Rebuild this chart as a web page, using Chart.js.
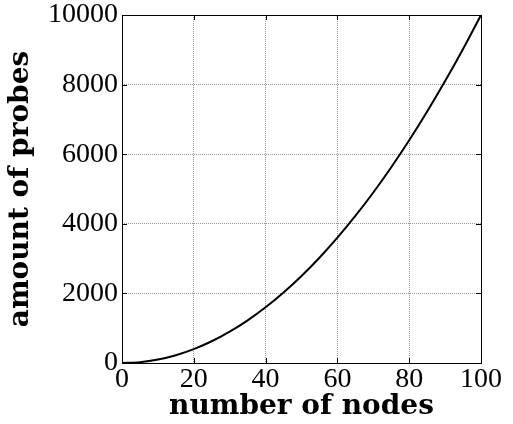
<!DOCTYPE html>
<html>
<head>
<meta charset="utf-8">
<script src="https://cdn.jsdelivr.net/npm/chart.js@4/dist/chart.umd.min.js"></script>
<style>
  html, body { margin: 0; padding: 0; background: #fff; }
  #wrap { width: 513px; height: 424px; }
</style>
</head>
<body>
<div id="wrap"><canvas id="c" width="513" height="424"></canvas></div>
<script>
// values
const nodes = [0, 5, 10, 15, 20, 25, 30, 35, 40, 45, 50, 55, 60, 65, 70, 75, 80, 85, 90, 95, 100];
const probes = [0, 25, 100, 225, 400, 625, 900, 1225, 1600, 2025, 2500, 3025, 3600, 4225, 4900, 5625, 6400, 7225, 8100, 9025, 10000];
const xTicks = [0, 20, 40, 60, 80, 100];
const yTicks = [0, 2000, 4000, 6000, 8000, 10000];

const serif = "'Liberation Serif', 'DejaVu Serif', serif";
const titleFont = "'DejaVu Serif', serif";

// frame + inward tick marks like the matplotlib original
const framePlugin = {
    id: 'frame',
    afterDraw(chart) {
        const { ctx, chartArea: a, scales } = chart;
        ctx.save();
        ctx.strokeStyle = '#000';
        ctx.lineWidth = 1;
        ctx.strokeRect(a.left + 0.5, a.top + 0.5, a.right - a.left, a.bottom - a.top);
        ctx.beginPath();
        xTicks.forEach(v => {
            const px = Math.round(scales.x.getPixelForValue(v)) + 0.5;
            ctx.moveTo(px, a.bottom); ctx.lineTo(px, a.bottom - 5);
            ctx.moveTo(px, a.top); ctx.lineTo(px, a.top + 5);
        });
        yTicks.forEach(v => {
            const py = Math.round(scales.y.getPixelForValue(v)) + 0.5;
            ctx.moveTo(a.left, py); ctx.lineTo(a.left + 5, py);
            ctx.moveTo(a.right, py); ctx.lineTo(a.right - 5, py);
        });
        ctx.stroke();
        ctx.restore();
    }
};

new Chart(document.getElementById('c'), {
    type: 'line',
    data: {
        datasets: [{
            data: nodes.map((n, i) => ({ x: n, y: probes[i] })),
            borderColor: '#000',
            borderWidth: 2,
            pointRadius: 0,
            tension: 0.3,
            fill: false
        }]
    },
    options: {
        responsive: false,
        animation: false,
        layout: { padding: { top: 15, right: 32, left: 0, bottom: 0 } },
        plugins: { legend: { display: false }, tooltip: { enabled: false } },
        scales: {
            x: {
                type: 'linear',
                min: 0, max: 100,
                afterBuildTicks: s => { s.ticks = xTicks.map(v => ({ value: v })); },
                afterFit: s => { s.height = 61; s.paddingLeft = 0; s.paddingRight = 0; },
                grid: { color: '#999', lineWidth: 1, drawTicks: false },
                border: { display: false, dash: [1, 1] },
                ticks: { color: '#000', padding: 0, maxRotation: 0, font: { family: serif, size: 28 } },
                title: { display: true, text: 'number of nodes', color: '#000', padding: { top: -6, bottom: 0 },
                         font: { family: titleFont, size: 28, weight: 'bold' } }
            },
            y: {
                type: 'linear',
                min: 0, max: 10000,
                afterBuildTicks: s => { s.ticks = yTicks.map(v => ({ value: v })); },
                afterFit: s => { s.width = 122; s.paddingTop = 0; s.paddingBottom = 0; },
                grid: { color: '#999', lineWidth: 1, drawTicks: false },
                border: { display: false, dash: [1, 1] },
                ticks: { color: '#000', padding: 4, font: { family: serif, size: 28 },
                         callback: v => String(v) },
                title: { display: true, text: 'amount of probes', color: '#000', padding: { top: 4, bottom: 0 },
                         font: { family: titleFont, size: 28, weight: 'bold' } }
            }
        }
    },
    plugins: [framePlugin]
});
</script>
</body>
</html>
